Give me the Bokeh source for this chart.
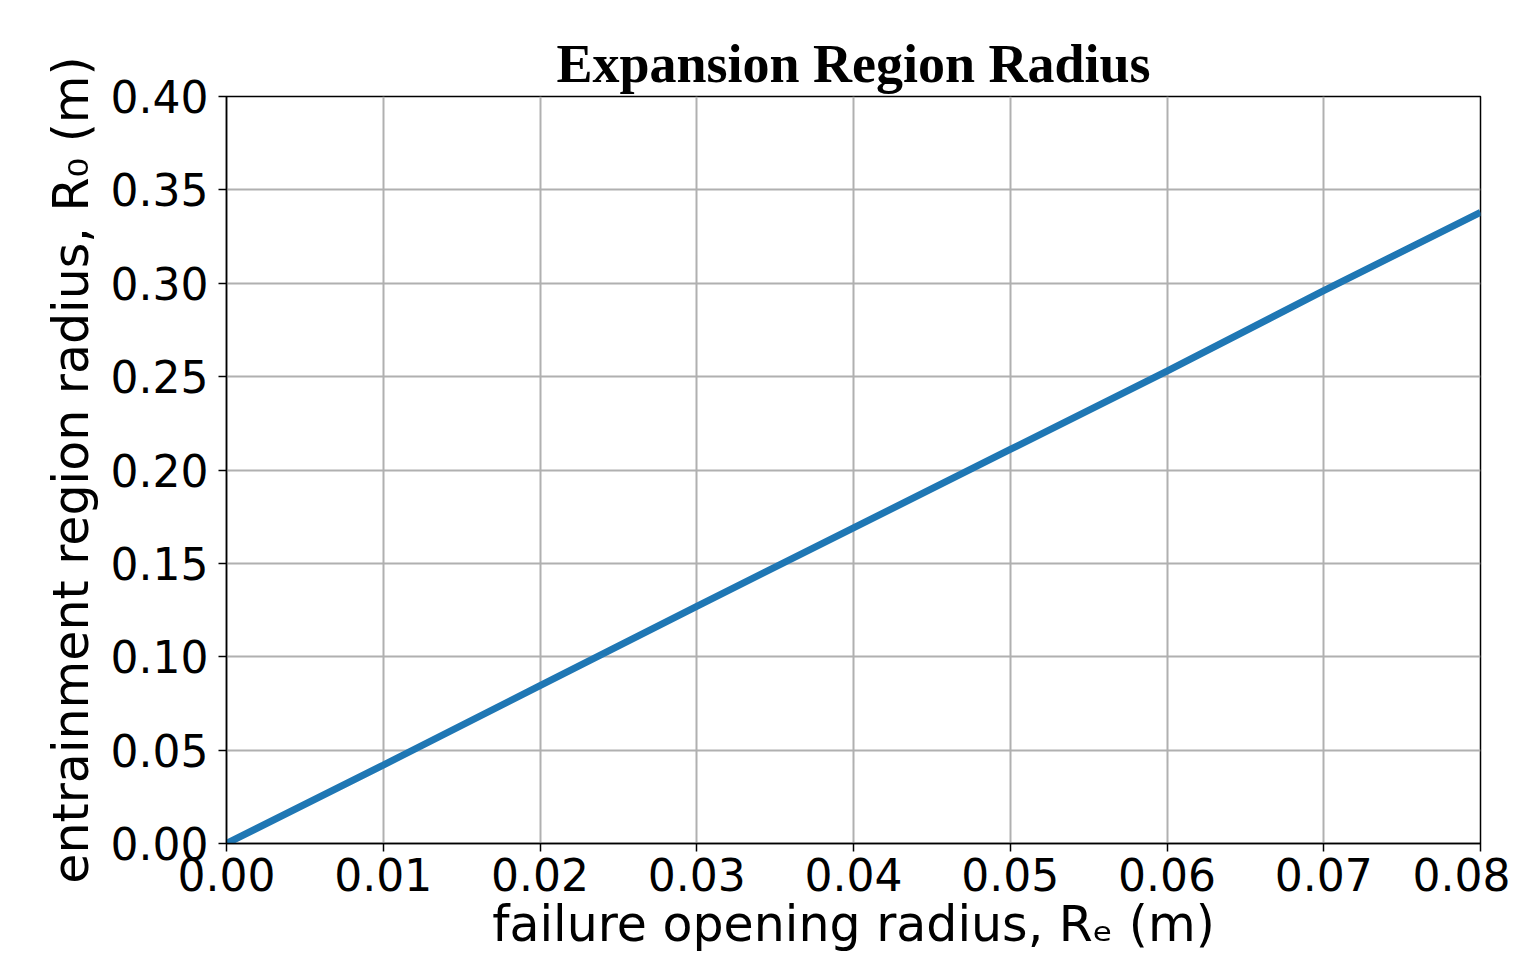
from bokeh.plotting import figure
from bokeh.models import Range1d, FixedTicker, NumeralTickFormatter
from bokeh.embed import file_html
from bokeh.resources import INLINE

# data
re_vals = [0.0, 0.01, 0.02, 0.03, 0.04, 0.05, 0.06, 0.07, 0.08]
r0_vals = [0.0, 0.042, 0.0845, 0.127, 0.169, 0.211, 0.253, 0.296, 0.338]
x_ticks = [0.0, 0.01, 0.02, 0.03, 0.04, 0.05, 0.06, 0.07, 0.08]
y_ticks = [0.0, 0.05, 0.10, 0.15, 0.20, 0.25, 0.30, 0.35, 0.40]

title = "Expansion Region Radius"
x_label = "failure opening radius, Rₑ (m)"
y_label = "entrainment region radius, R₀ (m)"

p = figure(width=1510, height=955, output_backend="svg", toolbar_location=None,
           x_range=Range1d(0, 0.08), y_range=Range1d(0, 0.40),
           min_border_left=226, min_border_right=30,
           min_border_top=96, min_border_bottom=102)

p.title.text = title
p.title.align = "center"
p.title.text_font = "Liberation Serif"
p.title.text_font_style = "bold"
p.title.text_font_size = "54px"
p.title.text_color = "black"
p.title.offset = 0
p.title.standoff = 6

p.line(re_vals, r0_vals, line_color="#1f77b4", line_width=7)

p.xaxis.ticker = FixedTicker(ticks=x_ticks)
p.yaxis.ticker = FixedTicker(ticks=y_ticks)
p.xaxis.formatter = NumeralTickFormatter(format="0.00")
p.yaxis.formatter = NumeralTickFormatter(format="0.00")

for ax in (p.xaxis, p.yaxis):
    ax.major_label_text_font = "DejaVu Sans"
    ax.major_label_text_font_size = "44px"
    ax.major_label_text_color = "black"
    ax.axis_label_text_font = "DejaVu Sans"
    ax.axis_label_text_font_size = "49px"
    ax.axis_label_text_font_style = "normal"
    ax.axis_label_text_color = "black"
    ax.major_tick_out = 8
    ax.major_tick_in = 0
    ax.minor_tick_out = 0
    ax.minor_tick_in = 0
    ax.major_tick_line_width = 1.5
    ax.axis_line_width = 1.5
    ax.axis_line_color = "black"
    ax.major_tick_line_color = "black"

p.xaxis.axis_label = x_label
p.yaxis.axis_label = y_label
p.xaxis.major_label_standoff = 6
p.yaxis.major_label_standoff = 10
p.xaxis.axis_label_standoff = 2
p.yaxis.axis_label_standoff = 8

p.grid.grid_line_color = "#b0b0b0"
p.grid.grid_line_width = 2

p.outline_line_color = "black"
p.outline_line_width = 1.5
p.outline_line_alpha = 1.0

p.background_fill_color = "white"
p.border_fill_color = "white"

open("out.html", "w").write(file_html(p, INLINE))
